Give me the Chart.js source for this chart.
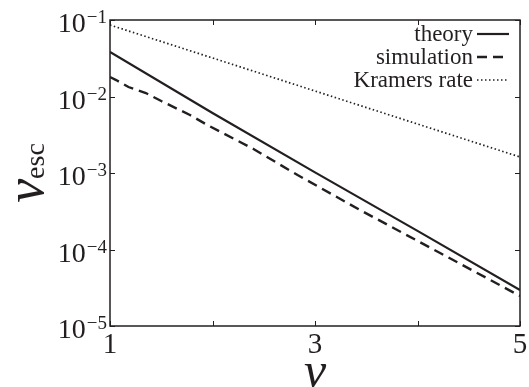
<!DOCTYPE html>
<html lang="en">
<head>
<meta charset="UTF-8">
<title>Escape rate vs nu</title>
<script src="https://cdn.jsdelivr.net/npm/chart.js"></script>
<style>
  html, body { margin: 0; padding: 0; background: #fff; }
  #rateChart { display: block; }
</style>
</head>
<body>
<canvas id="rateChart" width="529" height="387"></canvas>
<script>
// values
const theoryNu = [1, 2, 3, 4, 5];
const theoryRate = [0.0382, 0.00608, 0.00102, 0.000175, 0.0000295];

const simNu = [1.00, 1.06, 1.18, 1.35, 1.50, 1.78, 1.95, 2.40, 2.83, 3.44, 4.22, 5.00];
const simRate = [0.0180, 0.0164, 0.0133, 0.0111, 0.00873, 0.00573, 0.00424, 0.00206, 0.00094, 0.000328, 0.000090, 0.0000247];

const kramersNu = [1, 2, 3, 4, 5];
const kramersRate = [0.086, 0.0319, 0.0118, 0.00437, 0.00162];

const seriesNames = ['theory', 'simulation', 'Kramers rate'];
const xTickLabels = [1, 3, 5];
const yDecades = [-5, -4, -3, -2, -1];

const ink = '#231f20';
const serif = "'Liberation Serif', 'Times New Roman', serif";

function pts(xs, ys) {
    return xs.map((x, i) => ({ x: x, y: ys[i] }));
}

// frame, inward ticks, y tick labels with exponents, legend and y title
const decor = {
    id: 'decor',
    afterDraw(chart) {
        const { ctx, chartArea: a, scales: { x, y } } = chart;
        ctx.save();
        ctx.strokeStyle = ink;
        ctx.lineWidth = 1.5;
        ctx.strokeRect(a.left, a.top, a.right - a.left, a.bottom - a.top);

        ctx.lineWidth = 1;
        ctx.beginPath();
        x.ticks.forEach(t => {
            const px = Math.round(x.getPixelForValue(t.value)) + 0.5;
            ctx.moveTo(px, a.bottom); ctx.lineTo(px, a.bottom - 5);
            ctx.moveTo(px, a.top); ctx.lineTo(px, a.top + 5);
        });
        y.ticks.forEach(t => {
            const py = Math.round(y.getPixelForValue(t.value)) + 0.5;
            ctx.moveTo(a.left, py); ctx.lineTo(a.left + 5, py);
            ctx.moveTo(a.right, py); ctx.lineTo(a.right - 5, py);
        });
        ctx.stroke();

        // y tick labels: 10 with a raised exponent
        ctx.fillStyle = ink;
        ctx.textBaseline = 'alphabetic';
        y.ticks.forEach(t => {
            const py = y.getPixelForValue(t.value);
            const e = '\u2212' + String(-Math.round(Math.log10(t.value)));
            ctx.font = '19px ' + serif;
            ctx.textAlign = 'right';
            ctx.fillText(e, a.left - 3, py + 3);
            const we = ctx.measureText(e).width;
            ctx.font = '28px ' + serif;
            ctx.fillText('10', a.left - 4 - we, py + 12);
        });

        // legend: text on the left, line sample on the right
        ctx.font = '23px ' + serif;
        ctx.textAlign = 'right';
        ctx.textBaseline = 'middle';
        chart.data.datasets.forEach((ds, i) => {
            const ly = a.top + 14 + i * 23;
            ctx.fillText(ds.label, a.right - 47, ly + 1);
            ctx.save();
            ctx.strokeStyle = ds.borderColor;
            ctx.lineWidth = ds.borderWidth;
            ctx.setLineDash(ds.borderDash || []);
            ctx.beginPath();
            ctx.moveTo(a.right - 43, ly);
            ctx.lineTo(a.right - 11, ly);
            ctx.stroke();
            ctx.restore();
        });

        // y title: nu with subscript esc
        const cy = (a.top + a.bottom) / 2;
        ctx.translate(43, cy);
        ctx.rotate(-Math.PI / 2);
        ctx.textAlign = 'left';
        ctx.textBaseline = 'alphabetic';
        const nuFont = 'italic 54px ' + serif;
        const subFont = '28px ' + serif;
        ctx.font = nuFont;
        const wNu = ctx.measureText('\u03BD').width;
        ctx.font = subFont;
        const wSub = ctx.measureText('esc').width;
        const start = -(wNu + wSub) / 2;
        ctx.font = nuFont;
        ctx.fillText('\u03BD', start, 0);
        ctx.font = subFont;
        ctx.fillText('esc', start + wNu, 1);
        ctx.restore();
    }
};

new Chart(document.getElementById('rateChart'), {
    type: 'line',
    data: {
        datasets: [
            {
                label: seriesNames[0],
                data: pts(theoryNu, theoryRate),
                borderColor: ink,
                borderWidth: 2.2,
                pointRadius: 0,
                tension: 0
            },
            {
                label: seriesNames[1],
                data: pts(simNu, simRate),
                borderColor: ink,
                borderWidth: 2.4,
                borderDash: [10, 6],
                pointRadius: 0,
                tension: 0
            },
            {
                label: seriesNames[2],
                data: pts(kramersNu, kramersRate),
                borderColor: ink,
                borderWidth: 1.7,
                borderDash: [1.5, 2.5],
                pointRadius: 0,
                tension: 0
            }
        ]
    },
    options: {
        responsive: false,
        animation: false,
        devicePixelRatio: 1,
        layout: { padding: { left: 0, top: 20, right: 9, bottom: 0 } },
        plugins: {
            legend: { display: false },
            tooltip: { enabled: false }
        },
        scales: {
            x: {
                type: 'linear',
                min: 1,
                max: 5,
                grid: { display: false },
                border: { display: false },
                ticks: {
                    stepSize: 1,
                    padding: -6,
                    maxRotation: 0,
                    color: ink,
                    font: { family: serif, size: 29 },
                    callback: v => xTickLabels.includes(v) ? String(v) : ''
                },
                title: {
                    display: true,
                    text: '\u03BD',
                    color: ink,
                    font: { family: serif, size: 50, style: 'italic', lineHeight: 1 },
                    padding: { top: 0, bottom: -12 }
                },
                afterFit: s => { s.height = 61; }
            },
            y: {
                type: 'logarithmic',
                min: Math.pow(10, yDecades[0]),
                max: Math.pow(10, yDecades[yDecades.length - 1]),
                grid: { display: false },
                border: { display: false },
                afterBuildTicks: s => {
                    s.ticks = yDecades.map(e => ({ value: Math.pow(10, e), major: true }));
                },
                ticks: { display: false },
                afterFit: s => { s.width = 110; }
            }
        }
    },
    plugins: [decor]
});
</script>
</body>
</html>
